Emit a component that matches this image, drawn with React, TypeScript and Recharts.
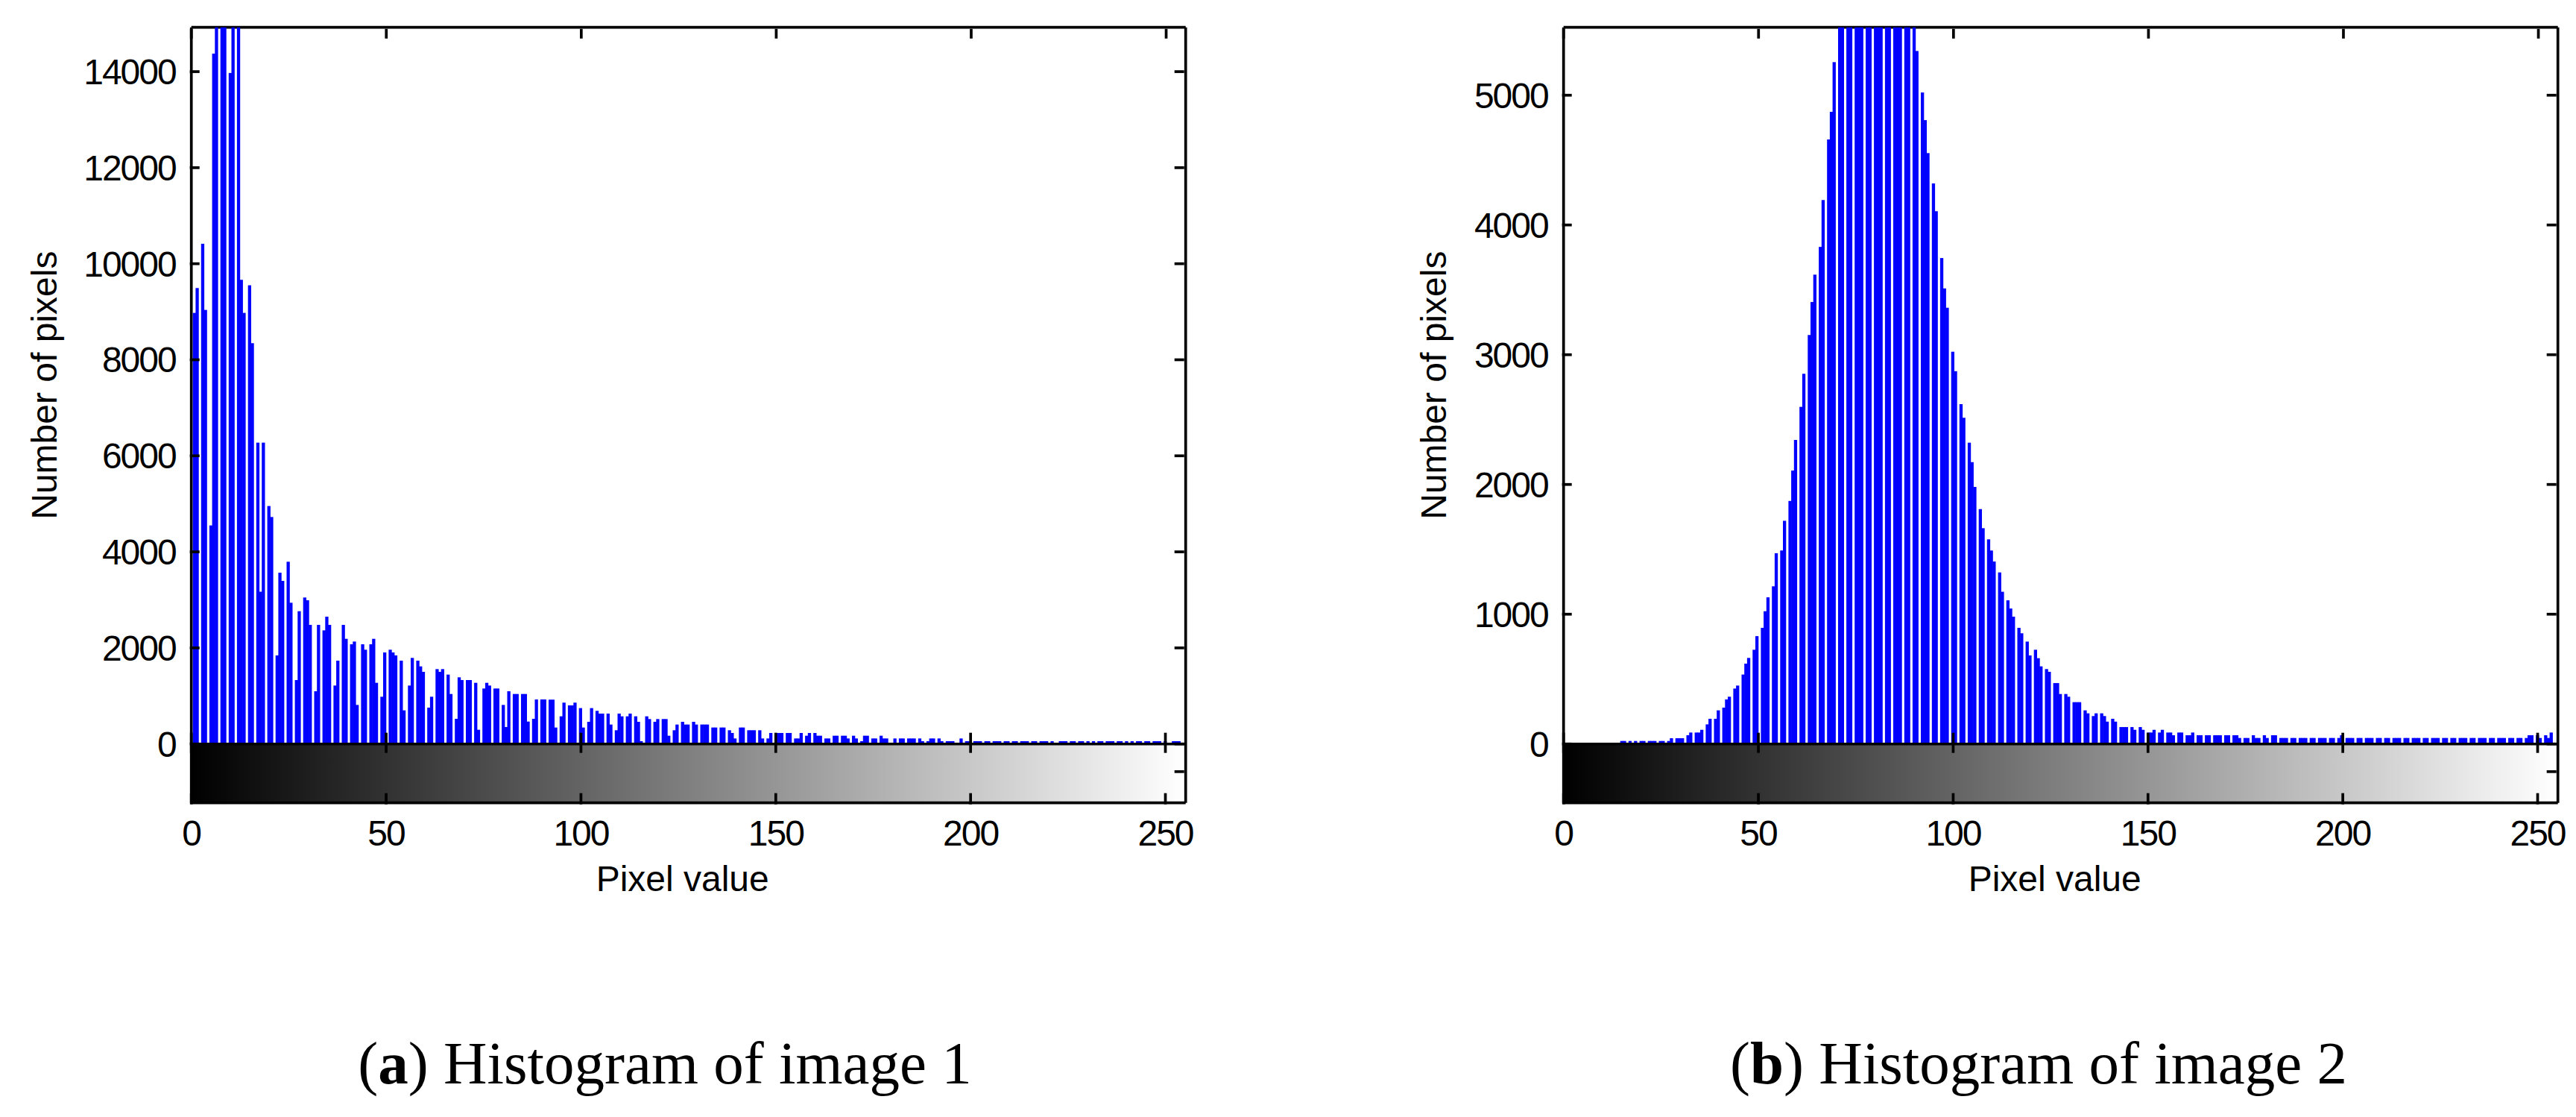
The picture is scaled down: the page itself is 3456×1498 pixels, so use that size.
import React from 'react';
import {
  BarChart,
  Bar,
  XAxis,
  YAxis,
  ReferenceArea,
  ReferenceLine,
} from 'recharts';

// histogram counts, index = pixel value
const countsA = [
  0, 8976, 9494, 10416, 9038, 4550, 14376, 16000, 17000, 16000, 13972, 16000, 15500, 9665, 8976, 9551,
  8345, 6274, 3170, 6274, 4954, 4726, 1843, 3566, 3395, 3794, 2940, 1330, 2764, 3049, 2992, 2479,
  1097, 2479, 2365, 2650, 2479, 1216, 1734, 2479, 2189, 2075, 2132, 812, 2075, 1962, 2075, 2189,
  1273, 983, 1905, 1962, 1905, 1843, 1734, 699, 1216, 1791, 1734, 1615, 1501, 756, 983, 1558,
  1501, 1558, 1444, 1040, 523, 1387, 1330, 1330, 1330, 1273, 295, 1154, 1273, 1216, 1154, 1154,
  812, 352, 1097, 1040, 1040, 1040, 1040, 466, 523, 926, 926, 926, 922, 922, 342, 575,
  860, 803, 803, 860, 746, 342, 461, 746, 689, 632, 632, 632, 404, 285, 632, 575,
  575, 632, 575, 461, 57, 575, 518, 461, 518, 518, 518, 171, 285, 404, 461, 404,
  404, 461, 404, 404, 404, 404, 342, 342, 342, 342, 285, 228, 114, 342, 342, 285,
  285, 285, 285, 114, 114, 228, 228, 228, 228, 228, 228, 114, 114, 228, 171, 228,
  228, 171, 171, 114, 114, 171, 171, 171, 171, 114, 171, 114, 57, 171, 171, 114,
  114, 171, 114, 114, 0, 114, 114, 114, 114, 114, 114, 114, 57, 57, 114, 114,
  114, 57, 57, 57, 57, 0, 114, 57, 57, 57, 57, 57, 57, 57, 57, 57,
  57, 57, 57, 57, 57, 57, 57, 57, 57, 57, 57, 57, 57, 57, 0, 57,
  57, 57, 57, 57, 57, 57, 57, 0, 57, 57, 57, 57, 57, 57, 57, 57,
  57, 0, 57, 57, 57, 57, 57, 57, 57, 57, 57, 0, 57, 57, 57, 0,
];

const countsB = [
  0, 0, 0, 0, 0, 0, 0, 0, 0, 0, 0, 0, 0, 0, 0, 23,
  23, 23, 0, 23, 23, 23, 23, 23, 23, 23, 23, 23, 44, 44, 44, 44,
  67, 88, 88, 88, 109, 151, 194, 194, 259, 280, 343, 364, 427, 450, 535, 619,
  663, 726, 831, 895, 1023, 1130, 1215, 1470, 1491, 1720, 1873, 2107, 2343, 2598, 2853, 3152,
  3406, 3617, 3831, 4192, 4659, 4872, 5255, 5700, 5800, 5900, 6100, 6200, 6300, 6400, 6500, 6450,
  6500, 6400, 6400, 6300, 6250, 6150, 6050, 5950, 5850, 5750, 5600, 5341, 5021, 4808, 4554, 4320,
  4106, 3745, 3511, 3362, 3023, 2873, 2619, 2514, 2322, 2172, 1981, 1810, 1663, 1577, 1491, 1406,
  1322, 1173, 1107, 1044, 981, 895, 853, 789, 682, 726, 661, 598, 577, 556, 469, 469,
  385, 385, 364, 322, 322, 322, 259, 236, 215, 236, 236, 215, 172, 194, 172, 130,
  130, 130, 130, 109, 130, 109, 88, 88, 109, 88, 109, 88, 88, 67, 88, 88,
  67, 67, 88, 67, 67, 67, 67, 67, 67, 67, 67, 67, 67, 67, 46, 46,
  46, 67, 46, 46, 67, 46, 67, 67, 46, 46, 46, 46, 46, 46, 46, 46,
  46, 46, 46, 46, 46, 46, 46, 46, 67, 46, 46, 46, 46, 46, 46, 46,
  46, 46, 46, 46, 46, 46, 46, 46, 46, 46, 46, 46, 46, 46, 46, 46,
  46, 46, 46, 46, 46, 46, 46, 46, 46, 46, 46, 46, 46, 46, 46, 46,
  46, 46, 46, 46, 46, 46, 46, 46, 67, 67, 67, 46, 67, 46, 88, 0,
];

const xTicks = [0, 50, 100, 150, 200, 250];
const yTicksA = [0, 2000, 4000, 6000, 8000, 10000, 12000, 14000];
const yTicksB = [0, 1000, 2000, 3000, 4000, 5000];
const xDomain = [0, 255.2];
const yDomainA = [-1227, 14922];
const yDomainB = [-454, 5523];

const PLOT_LEFT = 256.7;
const PLOT_TOP = 36.7;
const PLOT_W = 1334;
const PLOT_H = 1040;
const CELL = 3.7; // the source was a low-res bitmap, stems sit on this pixel grid
const FONT = '"Liberation Sans", Arial, sans-serif';

// stems snap to the source pixel grid, that gives the uneven gaps
const Stem = (props: any) => {
  const { x, y, width, height } = props;
  if (!height || height <= 0) return null;
  const col = Math.floor((x + width / 2 - PLOT_LEFT) / CELL - 0.98);
  return <rect x={PLOT_LEFT + 2 + col * CELL} y={y} width={CELL + 0.6} height={height} fill="#0000ff" />;
};

const LeftTick = ({ x, y, payload }: any) => (
  <g>
    <line x1={x} x2={x + 13} y1={y} y2={y} stroke="#000" strokeWidth={3.7} />
    <text x={x - 19} y={y + 17} textAnchor="end" fontFamily={FONT} fontSize={48} letterSpacing={-2} fill="#000">
      {payload.value}
    </text>
  </g>
);

const RightTick = ({ x, y }: any) => (
  <line x1={x} x2={x - 13} y1={y} y2={y} stroke="#000" strokeWidth={3.7} />
);

const TopTick = ({ x, y }: any) => (
  <line x1={x} x2={x} y1={y} y2={y + 13} stroke="#000" strokeWidth={3.7} />
);

const BottomTick = ({ x, y, payload, zeroY }: any) => (
  <g>
    <line x1={x} x2={x} y1={y} y2={y - 15} stroke="#000" strokeWidth={3.7} />
    <line x1={x} x2={x} y1={zeroY - 15} y2={zeroY + 12} stroke="#000" strokeWidth={3.7} />
    <text x={x} y={y + 55} textAnchor="middle" fontFamily={FONT} fontSize={48} letterSpacing={-2} fill="#000">
      {payload.value}
    </text>
  </g>
);

interface PanelProps {
  id: string;
  counts: number[];
  yTicks: number[];
  yDomain: number[];
  labelOffset: number;
}

const Panel: React.FC<PanelProps> = ({ id, counts, yTicks, yDomain, labelOffset }) => {
  const data = counts.map((count, pixel) => ({ pixel, count }));
  const zeroY = PLOT_TOP + (PLOT_H * yDomain[1]) / (yDomain[1] - yDomain[0]);
  const axisLine = { stroke: '#000', strokeWidth: 3.7 };

  return (
    <BarChart
      width={1610}
      height={1240}
      data={data}
      barSize={CELL}
      margin={{ top: PLOT_TOP, right: 1610 - PLOT_LEFT - PLOT_W, bottom: 0, left: 0 }}
    >
      <defs>
        <linearGradient id={id} x1="0" y1="0" x2="1" y2="0">
          <stop offset="0%" stopColor="#000000" />
          <stop offset="100%" stopColor="#ffffff" />
        </linearGradient>
      </defs>
      <ReferenceArea
        x1={xDomain[0]}
        x2={xDomain[1]}
        y1={yDomain[0]}
        y2={0}
        fill={`url(#${id})`}
        fillOpacity={1}
        stroke="none"
        zIndex={-200}
      />
      <XAxis
        type="number"
        dataKey="pixel"
        domain={xDomain}
        ticks={xTicks}
        allowDataOverflow
        height={1240 - PLOT_TOP - PLOT_H}
        tickSize={0}
        tickLine={false}
        axisLine={axisLine}
        interval={0}
        zIndex={200}
        tick={<BottomTick zeroY={zeroY} />}
        label={{
          value: 'Pixel value',
          position: 'insideTop',
          offset: 84,
          dx: -8,
          fontFamily: FONT,
          fontSize: 48,
          fill: '#000',
        }}
      />
      <XAxis
        xAxisId="top"
        orientation="top"
        type="number"
        domain={xDomain}
        ticks={xTicks}
        allowDataOverflow
        mirror
        tickSize={0}
        tickLine={false}
        axisLine={axisLine}
        interval={0}
        zIndex={200}
        tick={<TopTick />}
      />
      <YAxis
        type="number"
        domain={yDomain}
        ticks={yTicks}
        allowDataOverflow
        width={PLOT_LEFT}
        tickSize={0}
        tickLine={false}
        axisLine={axisLine}
        interval={0}
        zIndex={200}
        tick={<LeftTick />}
        label={{
          value: 'Number of pixels',
          angle: -90,
          position: 'insideLeft',
          offset: labelOffset,
          dy: -40,
          fontFamily: FONT,
          fontSize: 48,
          fill: '#000',
          style: { textAnchor: 'middle' },
        }}
      />
      <YAxis
        yAxisId="right"
        orientation="right"
        type="number"
        domain={yDomain}
        ticks={[...yTicks, (yDomain[0] * 47) / 100]}
        allowDataOverflow
        mirror
        tickSize={0}
        tickLine={false}
        axisLine={axisLine}
        interval={0}
        zIndex={200}
        tick={<RightTick />}
      />
      <ReferenceLine y={0} stroke="#000" strokeWidth={3.4} />
      <Bar dataKey="count" shape={<Stem />} isAnimationActive={false} />
    </BarChart>
  );
};

const captionStyle: React.CSSProperties = {
  position: 'absolute',
  top: 1380,
  transform: 'translateX(-50%)',
  fontFamily: '"Liberation Serif", serif',
  fontSize: 81,
  lineHeight: '92px',
  whiteSpace: 'nowrap',
  color: '#000',
};

const App = () => (
  <div style={{ position: 'absolute', left: 0, top: 0, width: 3456, height: 1498, background: '#fff', overflow: 'hidden' }}>
    <div style={{ position: 'absolute', left: 0, top: 0 }}>
      <Panel id="grayA" counts={countsA} yTicks={yTicksA} yDomain={yDomainA} labelOffset={59} />
    </div>
    <div style={{ position: 'absolute', left: 1841, top: 0 }}>
      <Panel id="grayB" counts={countsB} yTicks={yTicksB} yDomain={yDomainB} labelOffset={82} />
    </div>
    <div style={{ ...captionStyle, left: 892 }}>
      (<b>a</b>) Histogram of image 1
    </div>
    <div style={{ ...captionStyle, left: 2735 }}>
      (<b>b</b>) Histogram of image 2
    </div>
  </div>
);

export default App;
